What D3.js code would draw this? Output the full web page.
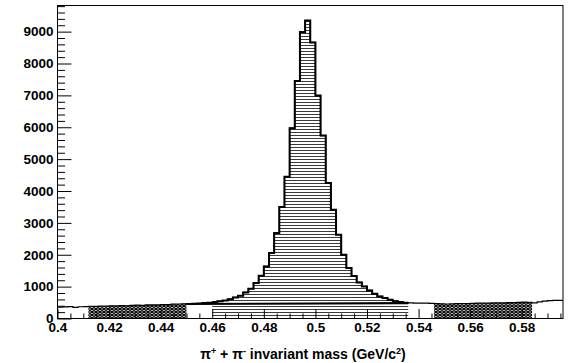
<!DOCTYPE html>
<html><head><meta charset="utf-8">
<script src="https://cdn.jsdelivr.net/npm/d3@7"></script>
<style>
body{margin:0;background:#fff;}
text{font-family:"Liberation Sans",Arial,Helvetica,sans-serif;font-weight:bold;}
</style></head>
<body><svg id="c" width="571" height="363"></svg>
<script>
// ---- data ----
const binLow = [0.400,0.402,0.404,0.406,0.408,0.410,0.412,0.414,0.416,0.418,
0.420,0.422,0.424,0.426,0.428,0.430,0.432,0.434,0.436,0.438,
0.440,0.442,0.444,0.446,0.448,0.450,0.452,0.454,0.456,0.458,
0.460,0.462,0.464,0.466,0.468,0.470,0.472,0.474,0.476,0.478,
0.480,0.482,0.484,0.486,0.488,0.490,0.492,0.494,0.496,0.498,
0.500,0.502,0.504,0.506,0.508,0.510,0.512,0.514,0.516,0.518,
0.520,0.522,0.524,0.526,0.528,0.530,0.532,0.534,0.536,0.538,
0.540,0.542,0.544,0.546,0.548,0.550,0.552,0.554,0.556,0.558,
0.560,0.562,0.564,0.566,0.568,0.570,0.572,0.574,0.576,0.578,
0.580,0.582,0.584,0.586,0.588,0.590,0.592,0.594];
const binWidth = 0.002;
const counts = [360,365,372,350,368,375,385,380,392,388,
398,395,405,400,410,418,412,425,430,428,
440,436,448,455,460,470,478,485,495,505,
520,540,565,605,662,715,818,934,1113,1342,
1633,2053,2680,3495,4450,5970,7455,8990,9350,8660,
6995,5740,4250,3410,2627,2000,1583,1330,1132,1006,
881,777,693,642,589,545,515,498,490,485,
482,480,476,465,460,455,458,466,470,468,
476,480,486,482,490,494,490,498,502,506,
512,508,492,520,548,562,568,566];
const signalRange = [0.460, 0.536];
const sidebandLeft = [0.412, 0.450];
const sidebandRight = [0.546, 0.584];
const bgLineX = [0.450, 0.536];
const bgLineY = [455, 480];
const xDomain = [0.4, 0.596];
const yDomain = [0, 9820];
const xTickValues = [0.40,0.42,0.44,0.46,0.48,0.50,0.52,0.54,0.56,0.58];
const xTickLabels = ["0.4","0.42","0.44","0.46","0.48","0.5","0.52","0.54","0.56","0.58"];
const yTickValues = [0,1000,2000,3000,4000,5000,6000,7000,8000,9000];
const yTickLabels = ["0","1000","2000","3000","4000","5000","6000","7000","8000","9000"];
const xTitleParts = [["π",""],["+","sup"],[" + π",""],["-","sup"],[" invariant mass (GeV/c",""],["2","sup"],[")",""]];

// ---- layout ----
const L = 57.5, R = 563, T = 5.5, B = 318.5;
const svg = d3.select("#c");
const x = d3.scaleLinear().domain(xDomain).range([L, R]);
const y = d3.scaleLinear().domain(yDomain).range([B, T]);

const defs = svg.append("defs");
const ph = defs.append("pattern").attr("id","hh").attr("patternUnits","userSpaceOnUse")
  .attr("width",8).attr("height",3);
ph.append("rect").attr("width",8).attr("height",3).attr("fill","#fff");
ph.append("line").attr("x1",0).attr("x2",8).attr("y1",0.5).attr("y2",0.5)
  .attr("stroke","#3a3a3a").attr("stroke-width",1);
const pc = defs.append("pattern").attr("id","xh").attr("patternUnits","userSpaceOnUse")
  .attr("width",4).attr("height",3);
pc.append("rect").attr("width",4).attr("height",3).attr("fill","#d8d8d8");
pc.append("path").attr("d","M-4,-3L8,6M-4,6L8,-3M-4,0L4,6M0,-3L8,3M-4,3L4,-3M0,6L8,0")
  .attr("stroke","#000").attr("stroke-width",1.05).attr("fill","none");

const bins = binLow.map((b,i)=>({x0:b, x1:b+binWidth, v:counts[i]}));

function stepPoints(lo, hi){
  const pts=[];
  bins.forEach(d=>{
    const a=Math.max(d.x0,lo), b=Math.min(d.x1,hi);
    if(b>a+1e-9){ pts.push([a,d.v]); pts.push([b,d.v]); }
  });
  return pts;
}
function areaPath(lo,hi){
  const pts=stepPoints(lo,hi);
  const line=d3.line().x(p=>x(p[0])).y(p=>y(p[1]));
  return line([[pts[0][0],0],...pts,[pts[pts.length-1][0],0]])+"Z";
}
const stepLine = d3.line().x(p=>x(p[0])).y(p=>y(p[1]));

const plot = svg.append("g");
// fills
[sidebandLeft, sidebandRight].forEach(r=>{
  plot.append("path").attr("d",areaPath(r[0],r[1])).attr("fill","url(#xh)");
});
plot.append("path").attr("d",areaPath(signalRange[0],signalRange[1])).attr("fill","url(#hh)");
// outlines
plot.append("path").attr("d",stepLine(stepPoints(xDomain[0],xDomain[1])))
  .attr("fill","none").attr("stroke","#000").attr("stroke-width",1.2);
plot.append("path").attr("d",stepLine(stepPoints(signalRange[0],signalRange[1])))
  .attr("fill","none").attr("stroke","#000").attr("stroke-width",2);
// background line
plot.append("line").attr("x1",x(bgLineX[0])).attr("x2",x(bgLineX[1]))
  .attr("y1",y(bgLineY[0])).attr("y2",y(bgLineY[1]))
  .attr("stroke","#000").attr("stroke-width",2.2);

// frame
svg.append("rect").attr("x",L).attr("y",T).attr("width",R-L).attr("height",B-T)
  .attr("fill","none").attr("stroke","#000").attr("stroke-width",1);

// axes
const fs = "13.5px";
const yMinor = d3.range(0, yDomain[1], 200).filter(v=>v%1000!==0);
const gyMinor = svg.append("g").attr("transform",`translate(${L},0)`)
  .call(d3.axisLeft(y).tickValues(yMinor).tickSize(-7.5).tickFormat(""));
gyMinor.select(".domain").remove();
gyMinor.selectAll("text").remove();
const gy = svg.append("g").attr("transform",`translate(${L},0)`)
  .call(d3.axisLeft(y).tickValues(yTickValues).tickSize(-14).tickPadding(4)
    .tickFormat((d,i)=>yTickLabels[i]));
gy.select(".domain").remove();
gy.selectAll("text").style("font-size",fs).attr("fill","#000");

const xMinor = d3.range(0, 40).map(i=>xDomain[0]+i*0.005).filter(v=>Math.abs((v*100)%2)>0.01 && Math.abs((v*100)%2-2)>0.01);
const gxMinor = svg.append("g").attr("transform",`translate(0,${B})`)
  .call(d3.axisBottom(x).tickValues(xMinor).tickSize(-5).tickFormat(""));
gxMinor.select(".domain").remove();
gxMinor.selectAll("text").remove();
const gx = svg.append("g").attr("transform",`translate(0,${B})`)
  .call(d3.axisBottom(x).tickValues(xTickValues).tickSize(-9.5).tickPadding(4)
    .tickFormat((d,i)=>xTickLabels[i]));
gx.select(".domain").remove();
gx.selectAll("text").style("font-size",fs).attr("fill","#000");
svg.selectAll(".tick line").attr("stroke","#000");

// x title
const title = svg.append("text").attr("x",303).attr("y",359).attr("text-anchor","middle")
  .style("font-size","14px").attr("fill","#000");
let shift = 0;
xTitleParts.forEach(p=>{
  const t = title.append("tspan").text(p[0]);
  if(p[1]==="sup"){ t.attr("dy",-5).style("font-size","9px"); shift = 5; }
  else { if(shift){ t.attr("dy",shift); shift=0; } }
});
</script></body></html>
